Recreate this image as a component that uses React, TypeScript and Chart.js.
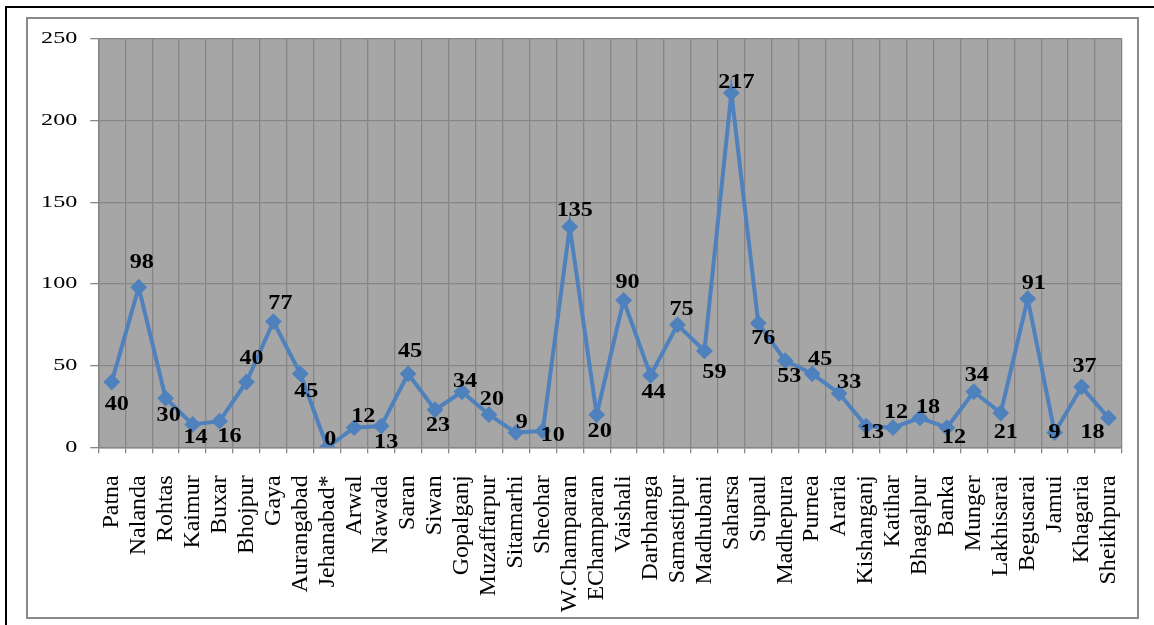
import React, { useEffect, useRef } from "react";
import { Chart, registerables } from "chart.js";

Chart.register(...registerables);

const categories = [
  "Patna", "Nalanda", "Rohtas", "Kaimur", "Buxar", "Bhojpur", "Gaya", "Aurangabad",
  "Jehanabad*", "Arwal", "Nawada", "Saran", "Siwan", "Gopalganj", "Muzaffarpur",
  "Sitamarhi", "Sheohar", "W.Champaran", "EChamparan", "Vaishali", "Darbhanga",
  "Samastipur", "Madhubani", "Saharsa", "Supaul", "Madhepura", "Purnea", "Araria",
  "Kishanganj", "Katihar", "Bhagalpur", "Banka", "Munger", "Lakhisarai", "Begusarai",
  "Jamui", "Khagaria", "Sheikhpura",
];

const values = [
  40, 98, 30, 14, 16, 40, 77, 45, 0, 12, 13, 45, 23, 34, 20, 9, 10, 135, 20, 90, 44,
  75, 59, 217, 76, 53, 45, 33, 13, 12, 18, 12, 34, 21, 91, 9, 37, 18,
];

const yTicks = [0, 50, 100, 150, 200, 250];

// label placement (style): [dx, dy] offsets from each point, in px
const labelOffsets: [number, number][] = [
  [5, 23], [3, -24], [3, 18], [3, 13], [10, 16], [5, -23], [7, -18], [6, 18],
  [3, -7], [9, -11], [5, 17], [2, -22], [3, 16], [3, -10], [3, -15], [6, -10],
  [10, 5], [5, -16], [3, 17], [4, -17], [3, 17], [4, -15], [10, 22], [5, -10],
  [5, 16], [4, 16], [8, -14], [10, -11], [6, 7], [3, -15], [8, -10], [7, 10],
  [3, -16], [5, 20], [6, -15], [0, 0], [3, -20], [-16, 15],
];

const LINE = "#4f81bd";
const GRID = "#868686";
const PLOT_BG = "#a6a6a6";
const SERIF = "'Liberation Serif', 'Times New Roman', serif";

const bgPlugin = {
  id: "plotBg",
  beforeDraw(chart: any) {
    const { ctx, chartArea } = chart;
    if (!chartArea) return;
    ctx.save();
    ctx.fillStyle = PLOT_BG;
    ctx.fillRect(chartArea.left, chartArea.top, chartArea.right - chartArea.left, chartArea.bottom - chartArea.top);
    ctx.restore();
  },
};

const textPlugin = {
  id: "texts",
  afterDraw(chart: any) {
    const ctx = chart.ctx;
    const yScale = chart.scales.y;
    ctx.save();
    ctx.fillStyle = "#000";
    // y tick labels (horizontally stretched, as in the source)
    ctx.font = `17px ${SERIF}`;
    ctx.textAlign = "right";
    ctx.textBaseline = "middle";
    yTicks.forEach((v) => {
      const y = yScale.getPixelForValue(v);
      ctx.save();
      ctx.translate(yScale.right - 21, y);
      ctx.scale(1.42, 1);
      ctx.fillText(String(v), 0, 0);
      ctx.restore();
    });
    // point value labels
    const meta = chart.getDatasetMeta(0);
    ctx.font = `bold 21px ${SERIF}`;
    ctx.textAlign = "center";
    meta.data.forEach((pt: any, i: number) => {
      const [dx, dy] = labelOffsets[i] || [0, -15];
      ctx.save();
      ctx.translate(pt.x + dx, pt.y + dy);
      ctx.scale(1.15, 0.95);
      ctx.fillText(String(values[i]), 0, 0);
      ctx.restore();
    });
    ctx.restore();
  },
};

export default function App() {
  const ref = useRef<HTMLCanvasElement | null>(null);

  useEffect(() => {
    if (!ref.current) return;
    const chart = new Chart(ref.current, {
      type: "line",
      data: {
        labels: categories,
        datasets: [
          {
            data: values,
            borderColor: LINE,
            backgroundColor: LINE,
            borderWidth: 4,
            pointStyle: "rectRot",
            pointRadius: 7,
            pointBorderWidth: 2,
            pointBackgroundColor: LINE,
            pointBorderColor: LINE,
            tension: 0,
          },
        ],
      },
      options: {
        responsive: false,
        animation: false,
        devicePixelRatio: 1,
        layout: { padding: { top: 20, right: 13, left: 0, bottom: 0 } },
        plugins: {
          legend: { display: false },
          tooltip: { enabled: false },
        },
        scales: {
          x: {
            type: "category",
            offset: true,
            grid: {
              offset: true,
              color: GRID,
              lineWidth: 1.3,
              tickLength: 6,
              drawTicks: true,
            },
            border: { color: GRID, width: 1.5 },
            ticks: {
              autoSkip: false,
              maxRotation: 90,
              minRotation: 90,
              color: "#000",
              padding: 22,
              font: { family: SERIF, size: 24 },
            },
            afterFit(scale: any) {
              scale.height = 167.7;
              scale.paddingLeft = 0;
              scale.paddingRight = 0;
            },
          },
          y: {
            min: 0,
            max: 250,
            afterBuildTicks(scale: any) {
              scale.ticks = yTicks.map((v) => ({ value: v }));
            },
            grid: {
              color: GRID,
              lineWidth: 1.3,
              tickLength: 8,
            },
            border: { color: GRID, width: 1.5 },
            ticks: { display: false },
            afterFit(scale: any) {
              scale.width = 70.3;
              scale.paddingTop = 0;
              scale.paddingBottom = 0;
            },
          },
        },
      },
      plugins: [bgPlugin, textPlugin],
    });
    return () => chart.destroy();
  }, []);

  return (
    <div
      style={{
        position: "fixed",
        left: 0,
        top: 0,
        width: 1154,
        height: 625,
        background: "#fff",
        overflow: "hidden",
      }}
    >
      <div
        style={{
          position: "absolute",
          left: 5,
          top: 6,
          width: 1200,
          height: 700,
          borderLeft: "2px solid #000",
          borderTop: "2px solid #000",
        }}
      />
      <div
        style={{
          position: "absolute",
          left: 26,
          top: 17,
          width: 1109,
          height: 598,
          border: "2px solid #8a8a8a",
        }}
      />
      <canvas
        ref={ref}
        width={1107}
        height={596}
        style={{ position: "absolute", left: 28, top: 19, width: 1107, height: 596 }}
      />
    </div>
  );
}
